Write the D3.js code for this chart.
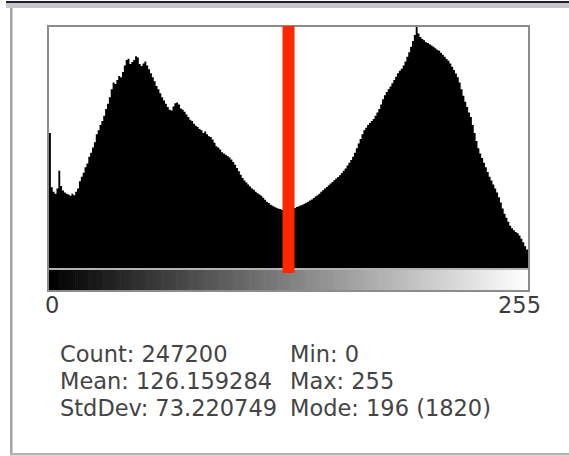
<!DOCTYPE html>
<html>
<head>
<meta charset="utf-8">
<script src="https://cdn.jsdelivr.net/npm/d3@7"></script>
<style>
  html, body { margin: 0; padding: 0; background: #fff; }
  svg { display: block; }
  text { font-family: "DejaVu Sans", Verdana, sans-serif; }
</style>
</head>
<body>
<svg id="chart" width="569" height="456"></svg>
<script>
// Pixel counts for grey levels 0..255
const counts = [
  1020, 610, 575, 560, 600, 735, 620, 585, 570, 560, 555, 545, 560, 550, 575, 600,
  655, 690, 720, 760, 790, 840, 870, 910, 950, 1010, 1040, 1080, 1110, 1150, 1200, 1240,
  1290, 1350, 1400, 1390, 1420, 1450, 1440, 1480, 1530, 1570, 1580, 1540, 1555, 1570, 1600, 1590,
  1540, 1525, 1545, 1560, 1530, 1500, 1470, 1440, 1410, 1375, 1350, 1320, 1290, 1265, 1240, 1215,
  1195, 1190, 1220, 1245, 1250, 1235, 1205, 1195, 1180, 1160, 1140, 1120, 1110, 1090, 1075, 1065,
  1050, 1040, 1020, 1030, 1010, 995, 990, 970, 945, 920, 910, 895, 875, 865, 855, 845,
  835, 820, 800, 780, 755, 730, 705, 680, 660, 645, 630, 615, 600, 590, 575, 565,
  555, 545, 530, 515, 500, 490, 478, 470, 462, 455, 450, 445, 440, 438, 436, 438,
  440, 443, 448, 453, 460, 466, 472, 478, 485, 492, 500, 510, 518, 528, 540, 550,
  560, 575, 588, 600, 612, 625, 638, 650, 662, 675, 688, 700, 718, 735, 752, 775,
  795, 815, 840, 870, 905, 940, 975, 1010, 1040, 1060, 1080, 1095, 1110, 1125, 1150, 1175,
  1200, 1235, 1275, 1305, 1330, 1350, 1370, 1395, 1420, 1445, 1470, 1490, 1505, 1530, 1560, 1595,
  1630, 1670, 1715, 1760, 1820, 1770, 1745, 1730, 1720, 1705, 1700, 1690, 1680, 1670, 1660, 1648,
  1640, 1625, 1610, 1595, 1578, 1565, 1545, 1520, 1495, 1468, 1440, 1400, 1350, 1300, 1255, 1215,
  1175, 1140, 1080, 1020, 960, 905, 865, 830, 795, 760, 725, 690, 660, 630, 600, 570,
  535, 495, 450, 410, 380, 350, 320, 300, 285, 272, 262, 245, 220, 195, 165, 140
];

// Threshold marker position (grey level)
const threshold = 128;

// Axis end labels
const tickValues = [0, 255];

// Summary statistics, two columns
const statsLeft = ["Count: 247200", "Mean: 126.159284", "StdDev: 73.220749"];
const statsRight = ["Min: 0", "Max: 255", "Mode: 196 (1820)"];

const svg = d3.select("#chart");

// Window chrome
svg.append("rect").attr("x", 6).attr("y", 1).attr("width", 563).attr("height", 2).attr("fill", "#1e1e38");
svg.append("rect").attr("x", 6).attr("y", 3).attr("width", 563).attr("height", 5).attr("fill", "#c6c6c6");
svg.append("rect").attr("x", 10).attr("y", 8).attr("width", 2.5).attr("height", 447).attr("fill", "#a4a4a4");
svg.append("rect").attr("x", 10).attr("y", 453).attr("width", 559).attr("height", 2.5).attr("fill", "#b4b4b4");

// Plot geometry
const plotLeft = 49, plotRight = 528, plotTop = 27, plotBase = 268;
const rampTop = 270, rampBottom = 290;

const x = d3.scaleLinear().domain([0, counts.length]).range([plotLeft, plotRight]);
const y = d3.scaleLinear().domain([0, d3.max(counts)]).range([plotBase, plotTop]);

// Histogram as a stepped area
const area = d3.area()
  .x((d, i) => x(i))
  .y0(plotBase)
  .y1(d => y(d))
  .curve(d3.curveStepAfter);

const stepped = counts.concat([counts[counts.length - 1]]);
svg.append("path")
  .datum(stepped)
  .attr("d", area)
  .attr("fill", "#000");

// Grey-level ramp under the histogram
svg.append("g")
  .selectAll("rect")
  .data(d3.range(counts.length))
  .join("rect")
  .attr("x", i => x(i))
  .attr("y", rampTop)
  .attr("width", i => x(i + 1) - x(i) + 0.6)
  .attr("height", rampBottom - rampTop)
  .attr("fill", i => d3.rgb(i, i, i));

// Frame and separator
svg.append("rect")
  .attr("x", plotLeft - 1).attr("y", plotTop - 1)
  .attr("width", plotRight - plotLeft + 2).attr("height", rampBottom - plotTop + 2)
  .attr("fill", "none").attr("stroke", "#8c8c8c").attr("stroke-width", 2);
svg.append("line")
  .attr("x1", plotLeft).attr("x2", plotRight)
  .attr("y1", plotBase + 1).attr("y2", plotBase + 1)
  .attr("stroke", "#9a9a9a").attr("stroke-width", 1.5);

// Threshold marker
svg.append("rect")
  .attr("x", x(threshold) - 6)
  .attr("y", plotTop - 1)
  .attr("width", 12)
  .attr("height", rampTop + 3 - (plotTop - 1))
  .attr("fill", "#ff2600");

// End labels
svg.append("g")
  .selectAll("text")
  .data(tickValues)
  .join("text")
  .attr("x", (d, i) => i === 0 ? x(d) - 4 : x(d + 1) + 13)
  .attr("y", 313)
  .attr("text-anchor", (d, i) => i === 0 ? "start" : "end")
  .attr("font-size", 22.5)
  .attr("fill", "#3c3c3c")
  .text(d => d);

// Statistics
const statsG = svg.append("g").attr("font-size", 22.5).attr("fill", "#444");
statsG.selectAll("text.l")
  .data(statsLeft)
  .join("text")
  .attr("class", "l")
  .attr("x", 60)
  .attr("y", (d, i) => 362 + i * 27)
  .text(d => d);
statsG.selectAll("text.r")
  .data(statsRight)
  .join("text")
  .attr("class", "r")
  .attr("x", 290)
  .attr("y", (d, i) => 362 + i * 27)
  .text(d => d);
</script>
</body>
</html>
